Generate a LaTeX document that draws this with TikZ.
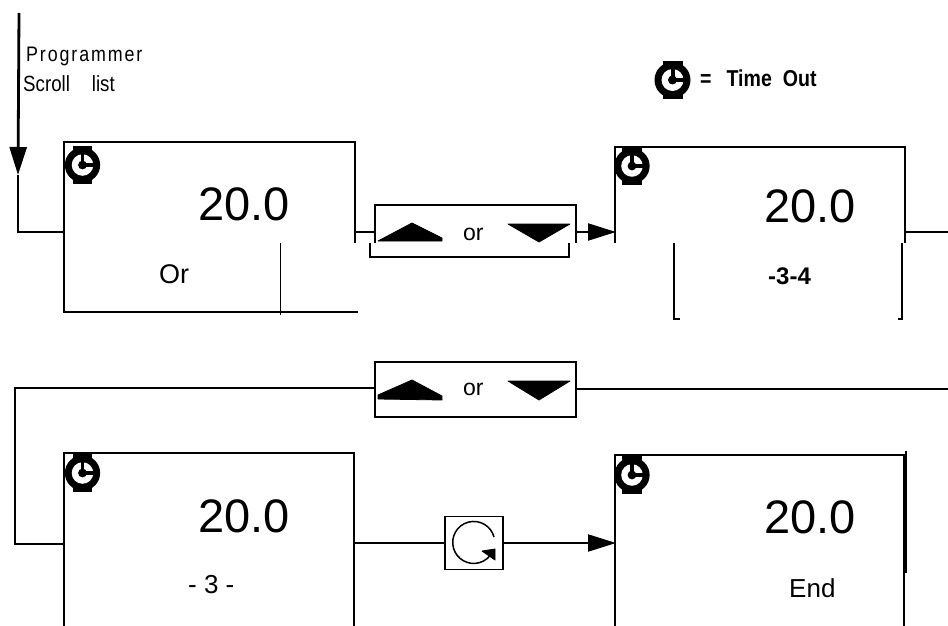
\documentclass[tikz,border=0pt]{standalone}
\usepackage{fontspec}
\setmainfont{Liberation Sans}
\newfontfamily\narrowf[FakeStretch=0.85]{Liberation Sans}
\newfontfamily\narrowsp[FakeStretch=0.85,LetterSpace=9]{Liberation Sans}
\newfontfamily\narrowb[FakeStretch=0.85]{Liberation Sans Bold}
\usetikzlibrary{arrows.meta,calc}
\tikzset{
  line/.style={line width=2pt,black,line cap=butt,line join=miter},
  boxline/.style={line width=1.9pt,black,line join=miter},
  tipped/.style={-{Triangle[length=28pt,width=17pt,fill=black]}},
  tiptext/.style={inner sep=0pt,anchor=base west},
  val/.style={tiptext,font=\fontsize{47}{47}\selectfont},
  sub/.style={tiptext,font=\fontsize{26}{26}\selectfont},
  ortext/.style={tiptext,font=\fontsize{23}{23}\selectfont},
  wedge/.style={fill=black,draw=black,line width=.8pt,line join=round},
  clockicon/.pic={
    \fill[black] (-10,-19) rectangle (10,19);
    \fill[black] (0,0) circle (18);
    \fill[white] (0,0) circle (11);
    \fill[black] (0,0) circle (4.5);
    \fill[black] (-2,-13) rectangle (2,2);
    \fill[black] (-2,-2) rectangle (13,2);
  }
}
\begin{document}
\begin{tikzpicture}[x=1pt,y=-1pt]
\useasboundingbox[fill=white] (0,0) rectangle (948,626);

% named points
\coordinate (in0) at (19,13);
\coordinate (intip) at (18,175);
\coordinate (inel) at (18,232);
\coordinate (b1w) at (64,232);
\coordinate (b1e) at (355,232);
\coordinate (a1) at (375,232);
\coordinate (a2) at (576,232);
\coordinate (b2w) at (616,232);
\coordinate (b2e) at (905,232);
\coordinate (out1) at (948,232);
\coordinate (out2) at (948,389);
\coordinate (l1) at (15,388);
\coordinate (l2) at (15,544);
\coordinate (b3w) at (64,544);
\coordinate (b3e) at (354,543);
\coordinate (b4w) at (616,543);

% display boxes (open at the cuts)
\draw[boxline] (64,232) -- (64,142) -- (355,142) -- (355,243);
\draw[boxline] (64,232) -- (64,312);
\draw[line width=2.4pt] (63,312) -- (358,312);
\draw[boxline] (280.5,243) -- (280.5,315);

\draw[boxline] (615,243) -- (615,147) -- (905,147) -- (905,243);
\draw[boxline] (680,319) -- (674,319) -- (674,243);
\draw[boxline] (898,319) -- (902,319) -- (902,243);

\draw[boxline] (64,626) -- (64,453) -- (354,453) -- (354,626);
\draw[boxline] (615,626) -- (615,455) -- (904,455) -- (904,626);
\draw[line width=2.8pt] (906,451) -- (906,573);

% keys
\node[minimum width=201pt,minimum height=38pt,inner sep=0pt] (btnA) at (475.5,224) {};
\draw[boxline] (btnA.south west) -- (btnA.north west) -- (btnA.north east) -- (btnA.south east);
\draw[boxline] (370,243) -- (370,257) -- (569,257) -- (569,243);
\node[draw,boxline,minimum width=201pt,minimum height=55pt,inner sep=0pt] (btnB) at (475.5,389.5) {};
\node[draw,boxline,minimum width=58pt,minimum height=53pt,inner sep=0pt] (clockbox) at (474,543) {};

% key glyphs
\path[wedge] (378,241) -- (412,223) -- (442,238) -- (442,241) -- cycle;
\path[wedge] (508,224) -- (570,224) -- (539,242) -- cycle;
\path[wedge] (378,399) -- (378,395) -- (412,380) -- (442,396) -- (442,400) -- cycle;
\path[wedge] (508,381) -- (570,381) -- (539,400) -- cycle;
\draw[line width=1.5pt] (494,537) arc[start angle=-15,end angle=-335,radius=21];
\path[wedge] (482,551) -- (495,549) -- (495,560) -- cycle;

% connectors
\draw[line width=2.8pt,tipped] (in0) -- (intip);
\draw[line] (intip) -- (inel) -- (b1w);
\draw[line] (b1e) -- (a1);
\draw[line,tipped] (a2) -- (b2w);
\draw[line] (b2e) -- (out1);
\draw[line] (btnB.east |- out2) -- (out2);
\draw[line] (btnB.west |- l1) -- (l1) -- (l2) -- (b3w);
\draw[line] (b3e) -- (clockbox.west);
\draw[line,tipped] (clockbox.east) -- (b4w);

% clock icons
\pic at (672.5,80) {clockicon};
\pic[scale=.98] at (82.5,165) {clockicon};
\pic[scale=.98] at (632,166) {clockicon};
\pic[scale=.98] at (82.5,473) {clockicon};
\pic[scale=.98] at (632,475) {clockicon};

% texts
\node[tiptext,font=\narrowsp\fontsize{21}{21}\selectfont] (t1) at (26,62) {Programmer};
\node[tiptext,font=\narrowf\fontsize{22}{22}\selectfont] (t2) at (23,92) {Scroll\hspace{22pt}list};
\node[tiptext,font=\narrowb\fontsize{23}{23}\selectfont] (t3) at (700,86) {=\hspace{15pt}Time\hspace{11pt}Out};
\node[val] (v1) at (198,220) {20.0};
\node[val] (v2) at (764,222) {20.0};
\node[val] (v3) at (198,532) {20.0};
\node[val] (v4) at (764,533) {20.0};
\node[sub,font=\fontsize{27}{27}\selectfont] (s1) at (159,283) {Or};
\node[tiptext,font=\bfseries\fontsize{24}{24}\selectfont] (s2) at (768,284) {-3-4};
\node[sub] (s3) at (188,593) {- 3 -};
\node[sub] (s4) at (789,597) {End};
\node[ortext] (o1) at (463,240) {or};
\node[ortext] (o2) at (463,395) {or};
\end{tikzpicture}
\end{document}
